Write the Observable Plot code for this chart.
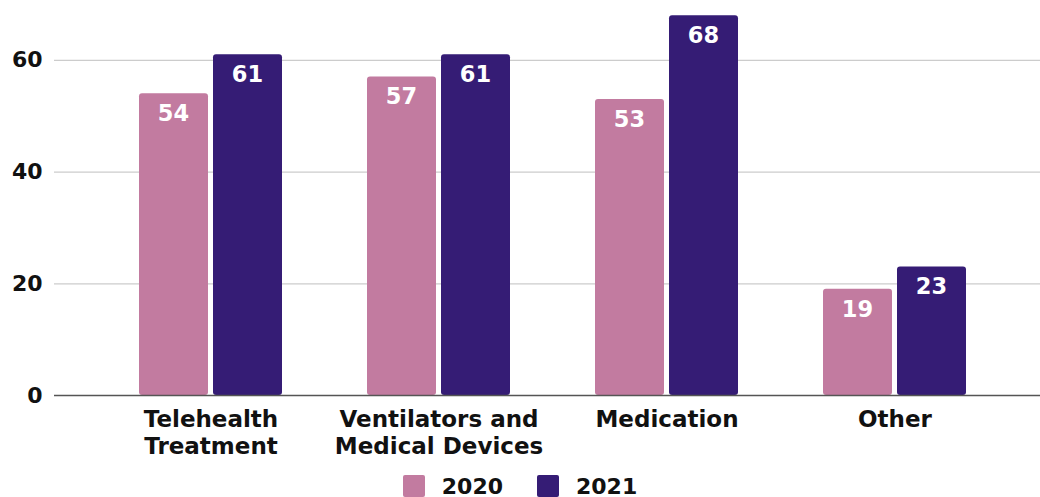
<!DOCTYPE html>
<html>
<head>
<meta charset="utf-8">
<script src="https://cdn.jsdelivr.net/npm/d3@7"></script>
<script src="https://cdn.jsdelivr.net/npm/@observablehq/plot@0.6"></script>
<style>
  html, body { margin: 0; padding: 0; background: #fff; }
  body { width: 1040px; height: 497px; overflow: hidden; font-family: "DejaVu Sans", sans-serif; }
  #chart svg { display: block; }
  #legend { display: flex; justify-content: center; align-items: center; height: 36px; margin-top: 7px; font-weight: bold; font-size: 22px; color: #111; }
  .item { display: flex; align-items: center; margin: 0 17px; }
  .sw { width: 22px; height: 22px; border-radius: 2px; margin-right: 17px; }
</style>
</head>
<body>
<div id="chart"></div>
<div id="legend"></div>
<script>
const categories = ["Telehealth Treatment", "Ventilators and Medical Devices", "Medication", "Other"];
const categoryLabels = ["Telehealth\nTreatment", "Ventilators and\nMedical Devices", "Medication", "Other"];
const years = ["2020", "2021"];
const values2020 = [54, 57, 53, 19];
const values2021 = [61, 61, 68, 23];
const yTicks = [0, 20, 40, 60];
const colors = ["#c27ba0", "#351c75"];

const rows2020 = categories.map((c, i) => ({category: c, year: years[0], value: values2020[i]}));
const rows2021 = categories.map((c, i) => ({category: c, year: years[1], value: values2021[i]}));
const labelOf = new Map(categories.map((c, i) => [c, categoryLabels[i]]));

const font = "DejaVu Sans, sans-serif";

const chart = Plot.plot({
  width: 1040,
  height: 461,
  marginLeft: 54,
  marginRight: 0,
  marginTop: 4,
  marginBottom: 66,
  style: {fontFamily: font, fontWeight: "bold", fontSize: "22px", color: "#111", background: "#fff"},
  x: {domain: categories, range: [138.5, 966.5], paddingInner: 0.373, paddingOuter: 0, label: null},
  y: {domain: [0, 70], label: null},
  marks: [
    Plot.ruleY([20, 40, 60], {stroke: "#cccccc", strokeWidth: 1.2}),
    Plot.barY(rows2020, {x: "category", y: "value", fill: colors[0], insetRight: 74, rx: 3}),
    Plot.barY(rows2021, {x: "category", y: "value", fill: colors[1], insetLeft: 74, rx: 3}),
    Plot.ruleY([0], {stroke: "#555555", strokeWidth: 1.5}),
    Plot.text(rows2020, {x: "category", y: "value", text: d => String(d.value), dx: -37.5, dy: 20, fill: "white", fontSize: 22.5, fontWeight: "bold", lineAnchor: "middle"}),
    Plot.text(rows2021, {x: "category", y: "value", text: d => String(d.value), dx: 36.5, dy: 20, fill: "white", fontSize: 22.5, fontWeight: "bold", lineAnchor: "middle"}),
    Plot.axisY({ticks: yTicks, tickSize: 0, tickPadding: 12, fontSize: 22, fontWeight: "bold", fill: "#111", label: null}),
    Plot.axisX({tickSize: 0, tickPadding: 12, fontSize: 23, fontWeight: "bold", fill: "#111", tickFormat: d => labelOf.get(d), lineHeight: 1.17, label: null})
  ]
});
document.getElementById("chart").appendChild(chart);

const legend = document.getElementById("legend");
years.forEach((y, i) => {
  const item = document.createElement("div");
  item.className = "item";
  const sw = document.createElement("div");
  sw.className = "sw";
  sw.style.background = colors[i];
  const t = document.createElement("span");
  t.textContent = y;
  item.appendChild(sw);
  item.appendChild(t);
  legend.appendChild(item);
});
</script>
</body>
</html>
